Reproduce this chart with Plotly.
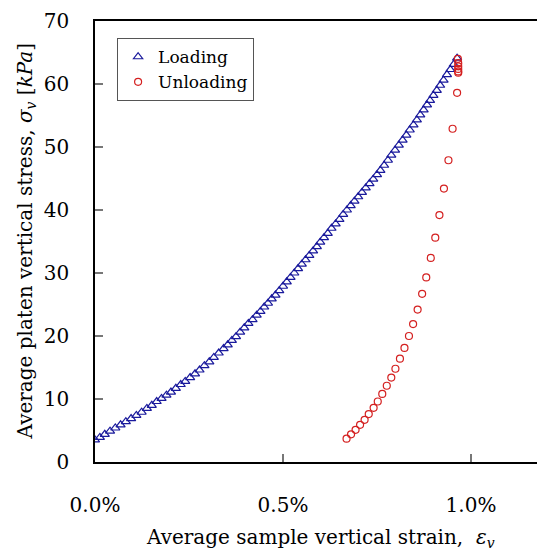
import plotly.graph_objects as go

# Loading branch: average sample vertical strain (%) and platen stress (kPa)
load_strain_pct = [
    0.000, 0.013, 0.026, 0.040, 0.054, 0.068, 0.082, 0.096, 0.110, 0.124, 0.138, 0.151, 0.164,
    0.177, 0.190, 0.202, 0.215, 0.228, 0.240, 0.253,
    0.266, 0.278, 0.291, 0.304, 0.316, 0.329, 0.342,
    0.353, 0.364, 0.375, 0.386, 0.397, 0.408, 0.419, 0.430,
    0.440, 0.450, 0.460, 0.470, 0.480, 0.490, 0.500, 0.510,
    0.520, 0.530, 0.540, 0.550, 0.560, 0.570, 0.580, 0.590, 0.599,
    0.609, 0.619, 0.629, 0.640, 0.650, 0.660, 0.670,
    0.680, 0.690, 0.700, 0.710, 0.720, 0.730, 0.740, 0.750, 0.759,
    0.769, 0.779, 0.788, 0.798, 0.808, 0.818, 0.828, 0.837, 0.847,
    0.856, 0.865, 0.874, 0.883, 0.891, 0.900, 0.909,
    0.918, 0.927, 0.936, 0.945, 0.954, 0.963,
]
load_stress = [
    3.5, 3.9, 4.4, 4.9, 5.4, 5.9, 6.4, 6.9, 7.4, 7.9, 8.5, 9.0, 9.6,
    10.1, 10.6, 11.1, 11.7, 12.3, 12.8, 13.4,
    14.0, 14.6, 15.3, 15.9, 16.6, 17.3, 18.0,
    18.6, 19.3, 19.9, 20.6, 21.3, 22.0, 22.6, 23.3,
    23.9, 24.6, 25.2, 25.9, 26.5, 27.2, 27.9, 28.6,
    29.3, 30.0, 30.7, 31.4, 32.1, 32.8, 33.5, 34.2, 34.9,
    35.6, 36.3, 37.1, 37.8, 38.5, 39.3, 40.0,
    40.7, 41.4, 42.1, 42.8, 43.5, 44.2, 44.9, 45.6, 46.3,
    47.1, 47.9, 48.7, 49.5, 50.3, 51.1, 51.9, 52.7, 53.5,
    54.3, 55.1, 55.9, 56.7, 57.4, 58.2, 59.0,
    59.8, 60.6, 61.5, 62.3, 63.1, 64.1,
]

# Unloading branch
unload_strain_pct = [
    0.965, 0.966, 0.966, 0.966, 0.966, 0.966, 0.963, 0.951, 0.940, 0.928,
    0.916, 0.905, 0.893, 0.881, 0.870, 0.858, 0.846, 0.835, 0.823, 0.811,
    0.799, 0.788, 0.776, 0.764, 0.752, 0.741, 0.728, 0.717, 0.705, 0.693,
    0.681, 0.669,
]
unload_stress = [
    64.0, 63.3, 62.8, 62.4, 62.0, 61.8, 58.6, 52.9, 47.9, 43.4,
    39.2, 35.6, 32.4, 29.3, 26.7, 24.2, 21.9, 20.0, 18.1, 16.4,
    14.8, 13.4, 12.1, 10.8, 9.6, 8.6, 7.6, 6.7, 5.9, 5.1,
    4.4, 3.7,
]

x_ticks = [0.0, 0.005, 0.010]
y_ticks = [0, 10, 20, 30, 40, 50, 60, 70]

FONT = "DejaVu Serif"

fig = go.Figure()
fig.add_trace(go.Scatter(
    x=[v / 100 for v in load_strain_pct], y=load_stress,
    mode="markers", name="Loading",
    marker=dict(symbol="triangle-up-open", size=8, color="#1a1a9c",
                line=dict(width=1.2, color="#1a1a9c")),
))
fig.add_trace(go.Scatter(
    x=[v / 100 for v in unload_strain_pct], y=unload_stress,
    mode="markers", name="Unloading",
    marker=dict(symbol="circle-open", size=7, color="#d42020",
                line=dict(width=1.2, color="#d42020")),
))

fig.update_layout(
    width=537, height=550,
    margin=dict(l=95, r=0, t=21, b=88),
    paper_bgcolor="white", plot_bgcolor="white",
    font=dict(family=FONT, size=20, color="black"),
    showlegend=True,
    legend=dict(
        x=0.05, y=0.961, xanchor="left", yanchor="top",
        bgcolor="white", bordercolor="#555", borderwidth=1,
        font=dict(family=FONT, size=17),
        itemwidth=30, tracegroupgap=0,
    ),
    xaxis=dict(
        range=[0, 0.011755], tickvals=x_ticks, tickformat=".1%",
        showgrid=False, zeroline=False,
        showline=True, linecolor="black", linewidth=1.5, mirror=True,
        ticks="inside", ticklen=8, tickwidth=1.5, tickcolor="#777",
        ticklabelstandoff=24,
    ),
    yaxis=dict(
        range=[0, 70], tickvals=y_ticks,
        showgrid=False, zeroline=False,
        showline=True, linecolor="black", linewidth=1.5,
        ticks="inside", ticklen=8, tickwidth=1.5, tickcolor="#777",
        ticklabelstandoff=20,
    ),
    annotations=[
        dict(text="Average sample vertical strain,  <i>ε<sub>v</sub></i>",
             xref="x", x=0.006, yref="paper", y=0, yanchor="middle",
             yshift=-76, showarrow=False, font=dict(family=FONT, size=20)),
        dict(text="Average platen vertical stress, <i>σ<sub>v</sub></i> [<i>kPa</i>]",
             xref="paper", x=0, xanchor="center", xshift=-70,
             yref="paper", y=0.5, yanchor="middle",
             textangle=-90, showarrow=False, font=dict(family=FONT, size=20)),
    ],
)

fig.write_html("out.html")
